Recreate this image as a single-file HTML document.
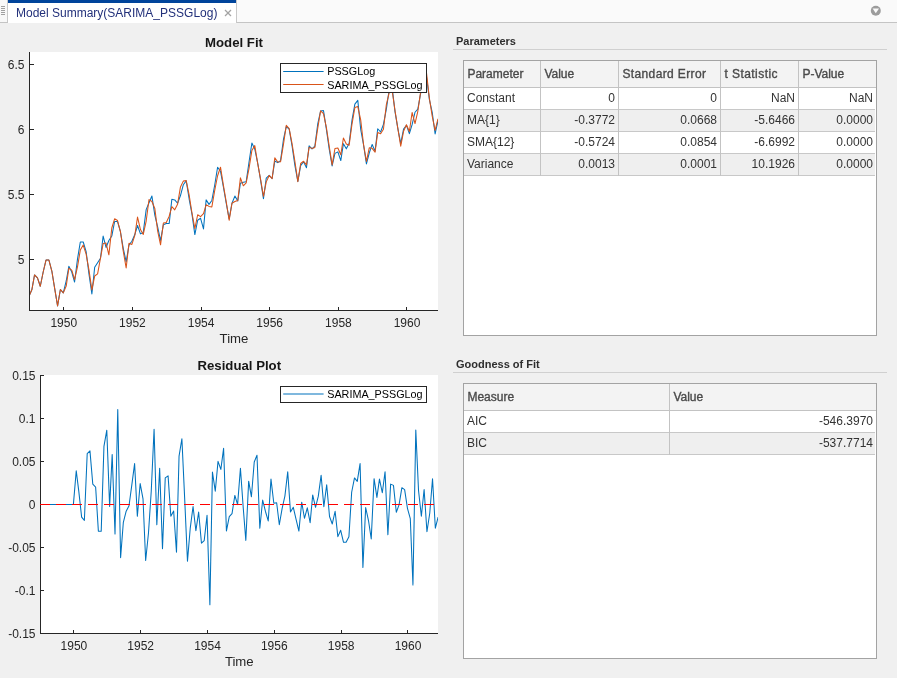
<!DOCTYPE html>
<html><head><meta charset="utf-8">
<style>
html,body{margin:0;padding:0;}
body{width:897px;height:678px;overflow:hidden;background:#f0f0f0;position:relative;font-family:"Liberation Sans",sans-serif;}
.abs{position:absolute;}
#topbar{left:0;top:0;width:897px;height:22px;background:#fafafa;border-bottom:1px solid #c4c4c4;}
#grip{left:0;top:0;width:7px;height:22px;background:#f8f8f8;border-right:1px solid #c8c8c8;}
#tab{left:8px;top:0;width:228px;height:23px;background:#fff;}
#tabbar{left:8px;top:0;width:228px;height:3px;background:#00449b;}
#tabtxt{left:16px;top:5px;font-size:12px;line-height:16px;color:#22307a;white-space:nowrap;}
svg{position:absolute;left:0;top:0;}
.tbl{position:absolute;border-collapse:collapse;font-size:12px;color:#333;}
.ptitle{position:absolute;font-size:11px;font-weight:bold;color:#2e2e2e;white-space:nowrap;}
.sep{position:absolute;height:1px;background:#d0d0d0;}
.box{position:absolute;background:#fff;border:1px solid #a6a6a6;box-sizing:border-box;}
.row{position:absolute;left:0;height:22px;}
.t{white-space:nowrap;font-size:12px;line-height:16px;color:#333;}
.cell{position:absolute;top:0;height:100%;box-sizing:border-box;white-space:nowrap;font-size:12px;color:#333;}
</style></head><body>
<div id="wrap" style="position:absolute;left:0;top:0;width:897px;height:678px;will-change:transform;">
<div id="topbar" class="abs"></div>
<div id="grip" class="abs"></div>
<div id="tab" class="abs"></div>
<div id="tabbar" class="abs"></div>
<div class="abs" style="left:236px;top:0;width:1px;height:23px;background:#c8c8c8;"></div>
<div id="tabtxt" class="abs">Model Summary(SARIMA_PSSGLog)</div>

<svg width="897" height="678" viewBox="0 0 897 678">
  <!-- grip -->
  <g stroke="#a0a0a0" stroke-width="1">
    <line x1="1" y1="6.5" x2="5" y2="6.5"/><line x1="1" y1="8.5" x2="5" y2="8.5"/><line x1="1" y1="10.5" x2="5" y2="10.5"/><line x1="1" y1="12.5" x2="5" y2="12.5"/><line x1="1" y1="14.5" x2="5" y2="14.5"/>
  </g>
  <!-- close X -->
  <g stroke="#a4a4a4" stroke-width="1.25">
    <line x1="225" y1="10" x2="231" y2="16"/><line x1="231" y1="10" x2="225" y2="16"/>
  </g>
  <!-- dropdown -->
  <circle cx="875.8" cy="10.8" r="5" fill="#9c9c9c"/>
  <path d="M872.6 8.6 L879 8.6 L875.8 13.2 Z" fill="#fafafa"/>

  <!-- Model Fit axes -->
  <rect x="29" y="52" width="409" height="258" fill="#fff"/>
  <text x="234" y="46.9" text-anchor="middle" font-family="Liberation Sans" font-weight="bold" font-size="13.2" fill="#161616">Model Fit</text>
  <defs><clipPath id="c1"><rect x="29" y="52" width="409" height="258"/></clipPath><clipPath id="c2"><rect x="40" y="375" width="398" height="258"/></clipPath></defs>
  <g fill="none" stroke-width="1.05" stroke-linejoin="round" clip-path="url(#c1)">
    <polyline points="29.00,296.30 31.92,289.51 34.55,274.93 37.46,277.92 40.28,286.24 43.19,272.00 46.01,260.04 48.92,260.04 51.84,271.04 54.66,288.41 57.57,305.94 60.39,289.51 63.30,292.86 66.21,280.98 68.84,266.35 71.76,272.00 74.58,282.01 77.49,259.17 80.31,242.02 83.22,242.02 86.13,251.54 88.95,273.94 91.87,294.00 94.68,267.27 97.60,262.71 100.51,258.30 103.14,236.03 106.05,247.48 108.87,240.49 111.79,236.03 114.60,221.53 117.52,221.53 120.43,231.72 123.25,248.29 126.16,261.81 128.98,245.11 131.89,241.25 134.81,234.58 137.53,225.51 140.45,233.86 143.26,232.43 146.18,209.66 149.00,202.69 151.91,196.08 154.82,215.15 157.64,226.86 160.55,240.49 163.37,224.84 166.29,223.50 169.20,223.50 171.83,199.34 174.74,199.90 177.56,203.26 180.47,195.54 183.29,184.76 186.21,180.88 189.12,198.79 191.94,213.91 194.85,234.58 197.67,220.23 200.58,218.30 203.50,228.92 206.13,199.90 209.04,204.40 211.86,200.45 214.77,184.76 217.59,167.27 220.50,171.20 223.42,187.25 226.24,203.26 229.15,218.94 231.97,203.26 234.88,196.08 237.79,201.01 240.42,183.29 243.34,182.32 246.16,181.84 249.07,161.79 251.89,142.98 254.80,149.20 257.71,163.03 260.53,179.92 263.45,198.79 266.26,178.04 269.18,175.26 272.09,178.51 274.82,160.96 277.73,162.61 280.55,160.55 283.46,139.45 286.28,126.55 289.19,129.09 292.10,146.23 294.92,165.56 297.84,181.36 300.66,165.56 303.57,161.79 306.48,167.70 309.11,145.87 312.03,148.83 314.84,146.23 317.76,123.75 320.58,111.12 323.49,110.57 326.40,129.42 329.22,149.20 332.13,165.98 334.95,153.39 337.87,151.85 340.78,160.55 343.41,143.69 346.32,148.83 349.14,143.34 352.05,119.80 354.87,104.05 357.79,100.39 360.70,129.42 363.52,144.78 366.43,163.87 369.25,153.00 372.16,144.42 375.08,151.09 377.71,128.77 380.62,132.02 383.44,124.36 386.35,109.18 389.17,89.76 392.08,87.17 395.00,111.68 397.82,128.45 400.73,143.69 403.55,129.09 406.46,125.30 409.37,133.67 412.10,124.67 415.01,112.25 417.83,109.18 420.74,92.88 423.56,73.28 426.47,76.67 429.39,99.62 432.21,112.25 435.12,134.00 437.94,120.70" stroke="#0072bd"/>
    <polyline points="29.00,296.30 31.92,289.51 34.55,274.93 37.46,277.92 40.28,286.24 43.19,272.00 46.01,260.04 48.92,260.04 51.84,271.04 54.66,288.41 57.57,305.94 60.39,289.51 63.30,292.86 66.21,286.07 68.84,268.31 71.76,270.08 74.58,279.60 77.49,266.86 80.31,250.11 83.22,245.07 86.13,254.17 88.95,269.90 91.87,289.94 94.68,276.04 97.60,273.93 100.51,257.97 103.14,243.57 106.05,243.01 108.87,254.84 111.79,227.99 114.60,218.82 117.52,220.51 120.43,231.51 123.25,251.16 126.16,267.98 128.98,243.31 131.89,244.40 134.81,235.42 137.53,217.02 140.45,229.57 143.26,234.43 146.18,221.02 149.00,199.63 151.91,201.54 154.82,208.43 157.64,230.87 160.55,244.81 163.37,223.06 166.29,222.50 169.20,216.25 171.83,206.66 174.74,209.83 177.56,204.29 180.47,186.95 183.29,181.12 186.21,180.56 189.12,194.80 191.94,212.75 194.85,228.71 197.67,214.76 200.58,216.64 203.50,213.74 206.13,204.79 209.04,206.40 211.86,206.96 214.77,190.05 217.59,175.75 220.50,167.19 223.42,185.39 226.24,201.86 229.15,220.29 231.97,203.23 234.88,201.55 237.79,200.44 240.42,177.84 243.34,185.83 246.16,182.99 249.07,168.20 251.89,150.42 254.80,145.59 257.71,163.69 260.53,178.89 263.45,196.29 266.26,181.86 269.18,175.44 272.09,178.75 274.82,157.89 277.73,162.02 280.55,161.81 283.46,144.40 286.28,125.39 289.19,128.66 292.10,143.92 294.92,161.52 297.84,181.69 300.66,163.46 303.57,161.26 306.48,164.93 309.11,147.30 312.03,148.38 314.84,147.44 317.76,128.15 320.58,110.77 323.49,113.54 326.40,127.59 329.22,146.24 332.13,164.95 334.95,148.52 337.87,147.94 340.78,154.82 343.41,137.97 346.32,143.93 349.14,145.18 352.05,123.80 354.87,107.53 357.79,106.58 360.70,119.89 363.52,144.31 366.43,161.43 369.25,147.79 372.16,148.31 375.08,152.15 377.71,132.59 380.62,133.78 383.44,129.30 386.35,104.58 389.17,92.83 392.08,90.05 395.00,110.50 397.82,128.38 400.73,146.22 403.55,131.33 406.46,124.70 409.37,131.51 412.10,112.50 415.01,123.51 417.83,111.29 420.74,91.09 423.56,75.54 426.47,72.53 429.39,98.32 432.21,116.12 435.12,130.41 437.94,118.78" stroke="#d95319"/>
  </g>
  <g stroke="#262626" stroke-width="1" shape-rendering="crispEdges">
    <line x1="29.5" y1="52" x2="29.5" y2="311"/>
    <line x1="29" y1="310.5" x2="438" y2="310.5"/>
    <line x1="29.5" y1="64.5" x2="33.5" y2="64.5"/>
<line x1="29.5" y1="129.5" x2="33.5" y2="129.5"/>
<line x1="29.5" y1="194.5" x2="33.5" y2="194.5"/>
<line x1="29.5" y1="259.5" x2="33.5" y2="259.5"/>
<line x1="63.5" y1="310.5" x2="63.5" y2="306.5"/>
<line x1="132.5" y1="310.5" x2="132.5" y2="306.5"/>
<line x1="201.5" y1="310.5" x2="201.5" y2="306.5"/>
<line x1="269.5" y1="310.5" x2="269.5" y2="306.5"/>
<line x1="338.5" y1="310.5" x2="338.5" y2="306.5"/>
<line x1="406.5" y1="310.5" x2="406.5" y2="306.5"/>
  </g>
  <g font-family="Liberation Sans" font-size="12" fill="#262626">
    <text x="24.5" y="69.2" text-anchor="end">6.5</text>
<text x="24.5" y="134.2" text-anchor="end">6</text>
<text x="24.5" y="199.2" text-anchor="end">5.5</text>
<text x="24.5" y="264.3" text-anchor="end">5</text>
<text x="63.8" y="327.1" text-anchor="middle">1950</text>
<text x="132.4" y="327.1" text-anchor="middle">1952</text>
<text x="201.1" y="327.1" text-anchor="middle">1954</text>
<text x="269.7" y="327.1" text-anchor="middle">1956</text>
<text x="338.4" y="327.1" text-anchor="middle">1958</text>
<text x="407.0" y="327.1" text-anchor="middle">1960</text>
  </g>
  <text x="234" y="342.8" text-anchor="middle" font-family="Liberation Sans" font-size="13.2" fill="#262626">Time</text>
  <!-- legend -->
  <rect x="280.5" y="63.5" width="146" height="29" fill="#fff" stroke="#262626" stroke-width="1"/>
  <line x1="283.2" y1="71.4" x2="323.6" y2="71.4" stroke="#0072bd" stroke-width="1.05"/>
  <line x1="283.2" y1="84.5" x2="323.6" y2="84.5" stroke="#d95319" stroke-width="1.05"/>
  <g font-family="Liberation Sans" font-size="10.8" fill="#000">
    <text x="327.2" y="74.8">PSSGLog</text>
    <text x="327.2" y="88.8">SARIMA_PSSGLog</text>
  </g>

  <!-- Residual axes -->
  <rect x="40" y="375" width="398" height="258" fill="#fff"/>
  <text x="239.3" y="369.8" text-anchor="middle" font-family="Liberation Sans" font-weight="bold" font-size="13.2" fill="#161616">Residual Plot</text>
  <polyline points="40.01,504.40 42.85,504.40 45.41,504.40 48.24,504.40 50.99,504.40 53.82,504.40 56.57,504.40 59.40,504.40 62.24,504.40 64.98,504.40 67.82,504.40 70.56,504.40 73.40,504.40 76.24,470.72 78.80,491.39 81.63,517.12 84.38,520.32 87.21,453.52 89.96,450.88 92.79,484.21 95.63,487.02 98.37,531.14 101.21,531.19 103.95,446.43 106.79,430.21 109.62,506.54 112.18,454.57 115.02,534.01 117.76,409.53 120.60,557.61 123.34,522.31 126.18,511.15 129.02,505.80 131.76,485.37 134.60,463.64 137.34,516.34 140.18,483.61 143.01,498.85 145.66,560.54 148.50,532.78 151.24,491.18 154.08,429.33 156.82,524.67 159.66,468.31 162.50,548.81 165.24,477.90 168.08,475.86 170.82,516.16 173.65,511.06 176.49,552.33 179.05,456.07 181.89,438.74 184.63,497.63 187.47,561.21 190.21,528.44 193.05,506.50 195.88,530.78 198.63,512.07 201.46,543.23 204.21,540.55 207.04,515.39 209.88,604.79 212.44,472.06 215.28,491.19 218.02,461.36 220.86,469.43 223.60,448.34 226.44,530.96 229.27,516.68 232.02,513.67 234.85,495.45 237.59,504.59 240.43,468.21 243.27,508.19 245.83,540.41 248.66,481.20 251.41,496.79 254.24,461.98 256.99,455.17 259.82,528.25 262.66,500.05 265.40,511.23 268.24,520.97 270.98,479.11 273.82,503.23 276.65,502.81 279.31,524.73 282.14,508.35 284.89,496.11 287.72,471.71 290.47,512.08 293.30,507.27 296.14,519.73 298.88,531.08 301.72,502.17 304.46,518.27 307.30,507.86 310.13,522.68 312.69,494.95 315.53,507.33 318.27,496.41 321.11,475.28 323.85,506.73 326.69,484.75 329.53,516.45 332.27,523.96 335.11,511.24 337.85,536.61 340.69,530.28 343.52,542.31 346.08,542.22 348.92,536.76 351.66,492.23 354.50,477.94 357.24,481.34 360.08,463.46 362.91,567.38 365.66,507.51 368.49,520.52 371.24,538.87 374.07,478.66 376.91,497.39 379.47,479.14 382.31,492.76 385.05,471.75 387.89,534.79 390.63,484.13 393.47,485.39 396.30,512.25 399.05,504.85 401.88,487.68 404.63,489.64 407.46,508.32 410.30,518.68 412.95,584.89 415.79,429.95 418.53,490.46 421.37,516.22 424.11,489.51 426.94,531.78 429.78,512.99 432.52,478.83 435.36,528.16 438.10,517.09" fill="none" stroke="#0072bd" stroke-width="1.05" stroke-linejoin="round" clip-path="url(#c2)"/>
  <g stroke="#262626" stroke-width="1" shape-rendering="crispEdges">
    <line x1="40.5" y1="375" x2="40.5" y2="634"/>
    <line x1="40" y1="633.5" x2="438" y2="633.5"/>
    <line x1="40.5" y1="375.5" x2="44.0" y2="375.5"/>
<line x1="40.5" y1="418.5" x2="44.0" y2="418.5"/>
<line x1="40.5" y1="461.5" x2="44.0" y2="461.5"/>
<line x1="40.5" y1="504.5" x2="44.0" y2="504.5"/>
<line x1="40.5" y1="547.5" x2="44.0" y2="547.5"/>
<line x1="40.5" y1="590.5" x2="44.0" y2="590.5"/>
<line x1="40.5" y1="633.5" x2="44.0" y2="633.5"/>
<line x1="73.5" y1="633.5" x2="73.5" y2="629.5"/>
<line x1="140.5" y1="633.5" x2="140.5" y2="629.5"/>
<line x1="207.5" y1="633.5" x2="207.5" y2="629.5"/>
<line x1="274.5" y1="633.5" x2="274.5" y2="629.5"/>
<line x1="341.5" y1="633.5" x2="341.5" y2="629.5"/>
<line x1="407.5" y1="633.5" x2="407.5" y2="629.5"/>
  </g>
  <line x1="40" y1="504.5" x2="438" y2="504.5" stroke="#ff0000" stroke-width="1.2" stroke-dasharray="10 6"/>
  <g font-family="Liberation Sans" font-size="12" fill="#262626">
    <text x="35.5" y="380.0" text-anchor="end">0.15</text>
<text x="35.5" y="423.0" text-anchor="end">0.1</text>
<text x="35.5" y="466.0" text-anchor="end">0.05</text>
<text x="35.5" y="509.0" text-anchor="end">0</text>
<text x="35.5" y="552.0" text-anchor="end">-0.05</text>
<text x="35.5" y="595.0" text-anchor="end">-0.1</text>
<text x="35.5" y="638.0" text-anchor="end">-0.15</text>
<text x="73.9" y="650.1" text-anchor="middle">1950</text>
<text x="140.7" y="650.1" text-anchor="middle">1952</text>
<text x="207.5" y="650.1" text-anchor="middle">1954</text>
<text x="274.3" y="650.1" text-anchor="middle">1956</text>
<text x="341.2" y="650.1" text-anchor="middle">1958</text>
<text x="408.0" y="650.1" text-anchor="middle">1960</text>
  </g>
  <text x="239.3" y="665.9" text-anchor="middle" font-family="Liberation Sans" font-size="13.2" fill="#262626">Time</text>
  <rect x="280.5" y="386.5" width="146" height="16" fill="#fff" stroke="#262626" stroke-width="1"/>
  <line x1="283.2" y1="394" x2="323.6" y2="394" stroke="#0072bd" stroke-width="1.05"/>
  <text x="327.2" y="398.1" font-family="Liberation Sans" font-size="10.8" fill="#000">SARIMA_PSSGLog</text>
</svg>

<!-- Parameters panel -->
<div class="ptitle" style="left:456px;top:35px;">Parameters</div>
<div class="sep" style="left:453px;top:49px;width:434px;"></div>
<div class="abs" style="left:463px;top:60px;width:414px;height:276px;background:#fff;"></div>
<div class="abs" style="left:464px;top:61px;width:412px;height:26px;background:#f3f3f3;"></div>
<div class="abs" style="left:464px;top:87px;width:412px;height:1px;background:#c3c3c3;"></div>
<div class="abs" style="left:464px;top:109px;width:411px;height:1px;background:#c8c8c8;"></div>
<div class="abs" style="left:464px;top:110px;width:411px;height:21px;background:#efefef;"></div>
<div class="abs" style="left:464px;top:131px;width:411px;height:1px;background:#c8c8c8;"></div>
<div class="abs" style="left:464px;top:153px;width:411px;height:1px;background:#c8c8c8;"></div>
<div class="abs" style="left:464px;top:154px;width:411px;height:21px;background:#efefef;"></div>
<div class="abs" style="left:464px;top:175px;width:411px;height:1px;background:#c8c8c8;"></div>
<div class="abs" style="left:540px;top:61px;width:1px;height:115px;background:#c3c3c3;"></div>
<div class="abs" style="left:618px;top:61px;width:1px;height:115px;background:#c3c3c3;"></div>
<div class="abs" style="left:720px;top:61px;width:1px;height:115px;background:#c3c3c3;"></div>
<div class="abs" style="left:798px;top:61px;width:1px;height:115px;background:#c3c3c3;"></div>
<div class="abs" style="left:463px;top:60px;width:414px;height:276px;border:1px solid #a3a3a3;box-sizing:border-box;"></div>
<div class="abs t" style="left:467.4px;top:65.74px;color:#4a4a4a;-webkit-text-stroke:0.35px #4a4a4a;">Parameter</div>
<div class="abs t" style="left:544.4px;top:65.74px;color:#4a4a4a;-webkit-text-stroke:0.35px #4a4a4a;">Value</div>
<div class="abs t" style="left:622.4px;top:65.74px;letter-spacing:0.38px;color:#4a4a4a;-webkit-text-stroke:0.35px #4a4a4a;">Standard Error</div>
<div class="abs t" style="left:724.4px;top:65.74px;letter-spacing:0.45px;color:#4a4a4a;-webkit-text-stroke:0.35px #4a4a4a;">t Statistic</div>
<div class="abs t" style="left:802.4px;top:65.74px;color:#4a4a4a;-webkit-text-stroke:0.35px #4a4a4a;">P-Value</div>
<div class="abs t" style="left:467.0px;top:89.84px;">Constant</div>
<div class="abs t" style="left:541px;width:74.0px;top:89.84px;text-align:right;">0</div>
<div class="abs t" style="left:619px;width:98.0px;top:89.84px;text-align:right;">0</div>
<div class="abs t" style="left:721px;width:74.0px;top:89.84px;text-align:right;">NaN</div>
<div class="abs t" style="left:799px;width:74.0px;top:89.84px;text-align:right;">NaN</div>
<div class="abs t" style="left:467.0px;top:111.84px;">MA{1}</div>
<div class="abs t" style="left:541px;width:74.0px;top:111.84px;text-align:right;">-0.3772</div>
<div class="abs t" style="left:619px;width:98.0px;top:111.84px;text-align:right;">0.0668</div>
<div class="abs t" style="left:721px;width:74.0px;top:111.84px;text-align:right;">-5.6466</div>
<div class="abs t" style="left:799px;width:74.0px;top:111.84px;text-align:right;">0.0000</div>
<div class="abs t" style="left:467.0px;top:133.84px;">SMA{12}</div>
<div class="abs t" style="left:541px;width:74.0px;top:133.84px;text-align:right;">-0.5724</div>
<div class="abs t" style="left:619px;width:98.0px;top:133.84px;text-align:right;">0.0854</div>
<div class="abs t" style="left:721px;width:74.0px;top:133.84px;text-align:right;">-6.6992</div>
<div class="abs t" style="left:799px;width:74.0px;top:133.84px;text-align:right;">0.0000</div>
<div class="abs t" style="left:467.0px;top:155.84px;">Variance</div>
<div class="abs t" style="left:541px;width:74.0px;top:155.84px;text-align:right;">0.0013</div>
<div class="abs t" style="left:619px;width:98.0px;top:155.84px;text-align:right;">0.0001</div>
<div class="abs t" style="left:721px;width:74.0px;top:155.84px;text-align:right;">10.1926</div>
<div class="abs t" style="left:799px;width:74.0px;top:155.84px;text-align:right;">0.0000</div>

<!-- Goodness panel -->
<div class="ptitle" style="left:456px;top:358px;">Goodness of Fit</div>
<div class="sep" style="left:453px;top:372px;width:434px;"></div>
<div class="abs" style="left:463px;top:383px;width:414px;height:276px;background:#fff;"></div>
<div class="abs" style="left:464px;top:384px;width:412px;height:26px;background:#f3f3f3;"></div>
<div class="abs" style="left:464px;top:410px;width:412px;height:1px;background:#c3c3c3;"></div>
<div class="abs" style="left:464px;top:432px;width:411px;height:1px;background:#c8c8c8;"></div>
<div class="abs" style="left:464px;top:433px;width:411px;height:21px;background:#efefef;"></div>
<div class="abs" style="left:464px;top:454px;width:411px;height:1px;background:#c8c8c8;"></div>
<div class="abs" style="left:669px;top:384px;width:1px;height:71px;background:#c3c3c3;"></div>
<div class="abs" style="left:463px;top:383px;width:414px;height:276px;border:1px solid #a3a3a3;box-sizing:border-box;"></div>
<div class="abs t" style="left:467.4px;top:388.74px;color:#4a4a4a;-webkit-text-stroke:0.35px #4a4a4a;">Measure</div>
<div class="abs t" style="left:673.4px;top:388.74px;color:#4a4a4a;-webkit-text-stroke:0.35px #4a4a4a;">Value</div>
<div class="abs t" style="left:467.0px;top:412.84px;">AIC</div>
<div class="abs t" style="left:670px;width:203.0px;top:412.84px;text-align:right;">-546.3970</div>
<div class="abs t" style="left:467.0px;top:434.84px;">BIC</div>
<div class="abs t" style="left:670px;width:203.0px;top:434.84px;text-align:right;">-537.7714</div>

</div>
</body></html>
